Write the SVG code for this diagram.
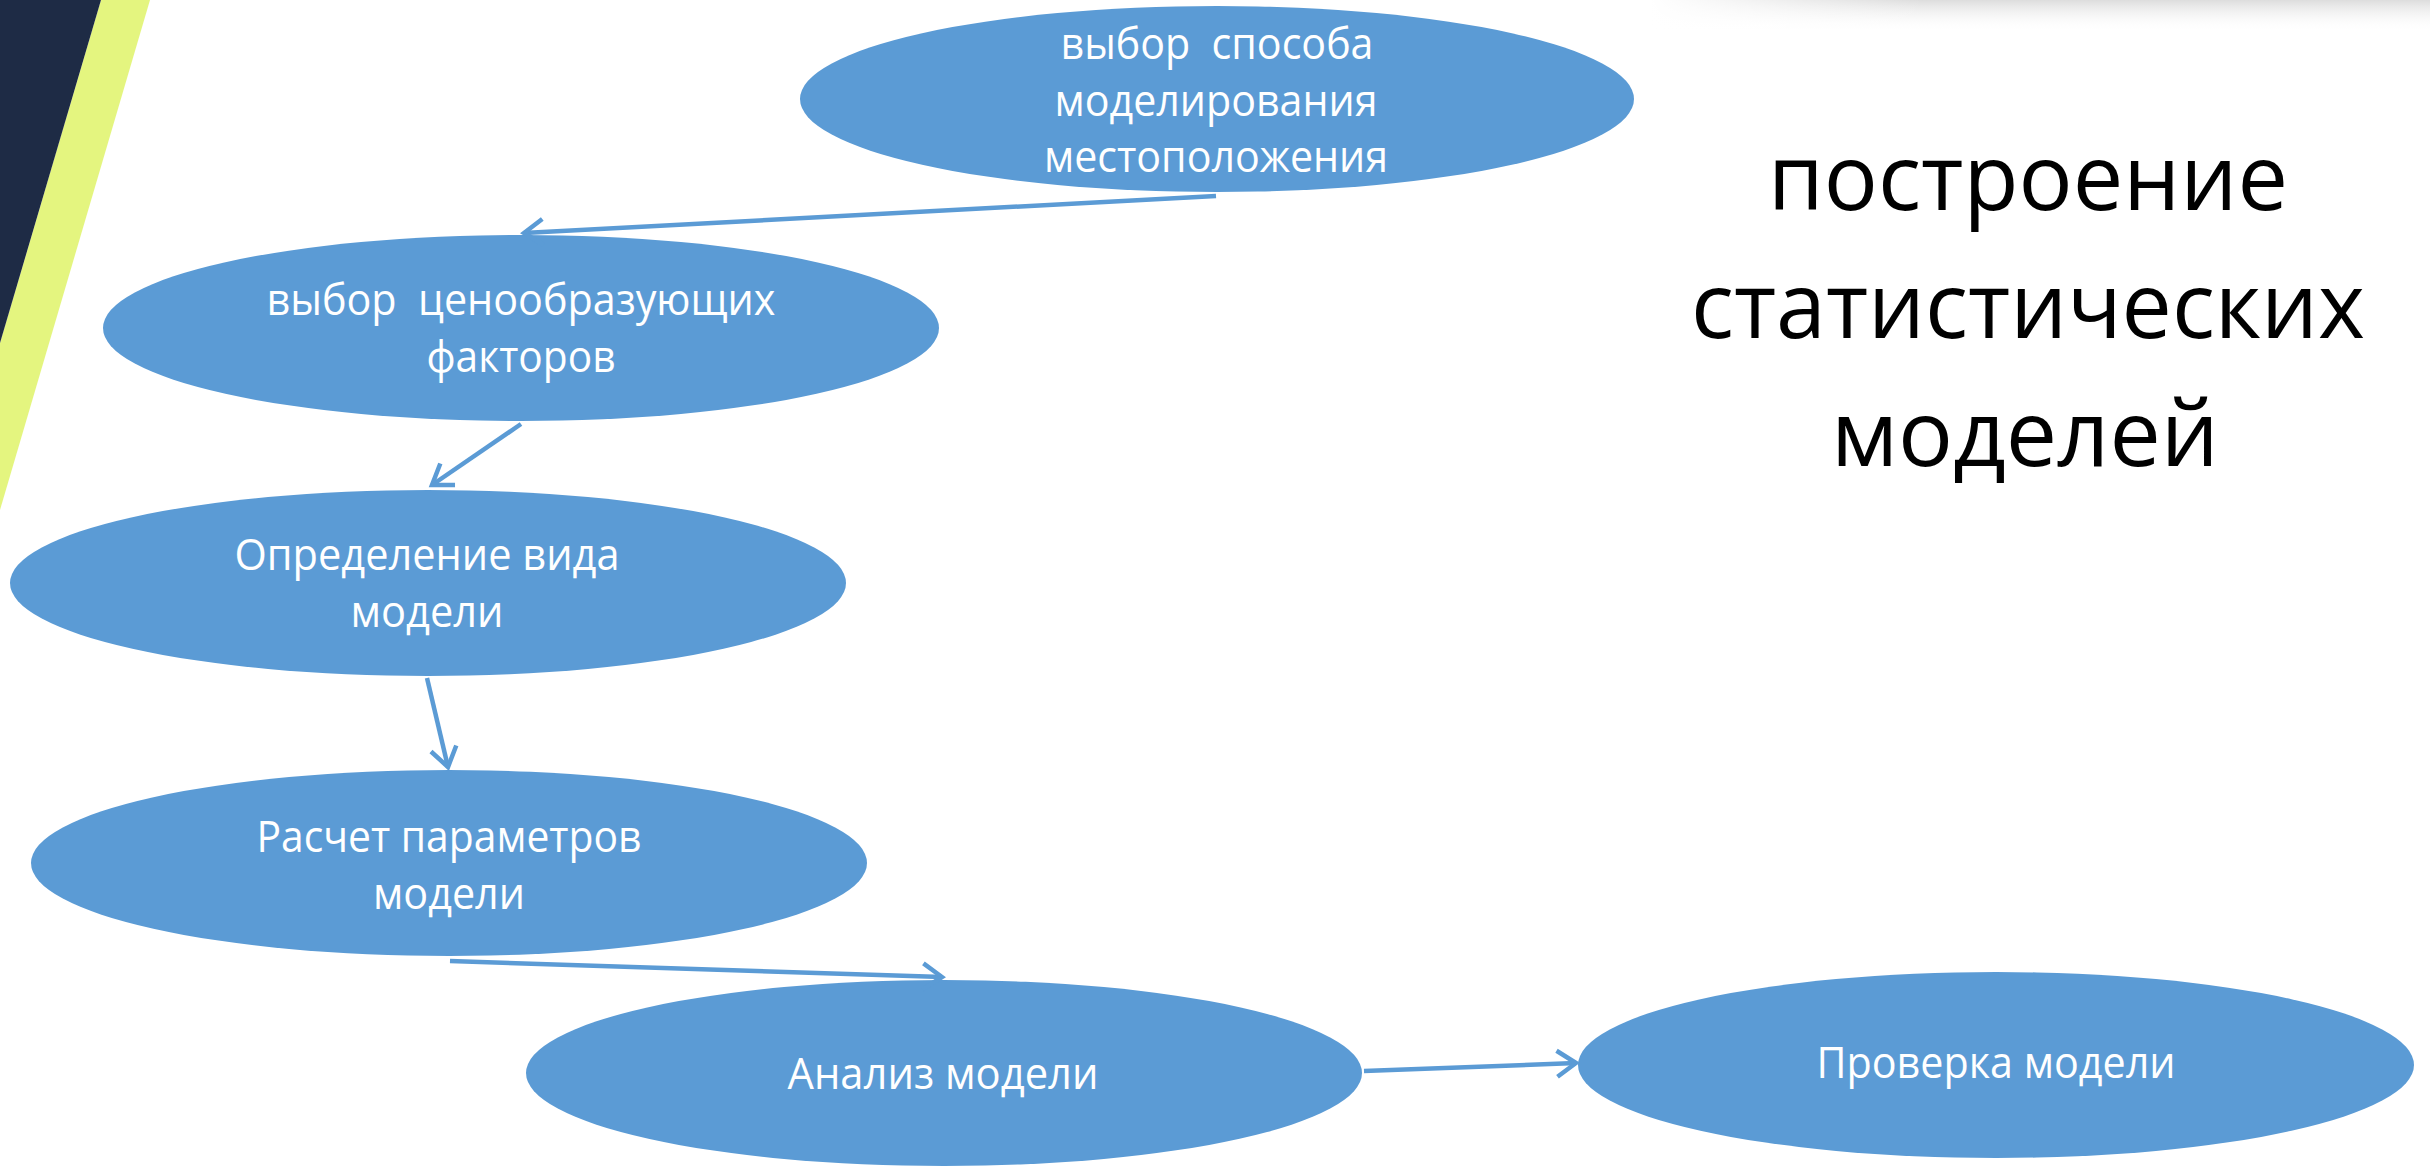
<svg xmlns="http://www.w3.org/2000/svg" width="2430" height="1166" viewBox="0 0 2430 1166">
  <defs>
    <style>
      .node { fill: #5B9BD5; }
      .lbl { font-family: "Open Sans", "Noto Sans", "DejaVu Sans", sans-serif; font-size: 44px; fill: #FFFFFF; text-anchor: middle; }
      .title { font-family: "Open Sans", "Noto Sans", "DejaVu Sans", sans-serif; font-size: 92px; fill: #000000; text-anchor: middle; }
      .edge { stroke: #5B9BD5; stroke-width: 4.5; fill: none; marker-end: url(#arrow); }
    </style>
    <marker id="arrow" markerUnits="userSpaceOnUse" markerWidth="40" markerHeight="40" viewBox="-25 -20 30 40" refX="0" refY="0" orient="auto">
      <path d="M -19 -13 L 0 0 L -19 13" fill="none" stroke="#5B9BD5" stroke-width="4.5" stroke-linejoin="miter"/>
    </marker>
    <linearGradient id="shadeV" x1="0" y1="0" x2="0" y2="1">
      <stop offset="0" stop-color="#d9d9d9" stop-opacity="0.9"/>
      <stop offset="1" stop-color="#ffffff" stop-opacity="0"/>
    </linearGradient>
    <linearGradient id="shadeH" x1="0" y1="0" x2="1" y2="0">
      <stop offset="0" stop-color="#ffffff" stop-opacity="1"/>
      <stop offset="0.35" stop-color="#ffffff" stop-opacity="0"/>
    </linearGradient>
  </defs>

  <rect x="0" y="0" width="2430" height="1166" fill="#FFFFFF"/>

  <!-- decorative background -->
  <g id="decor">
    <rect x="1650" y="0" width="780" height="32" fill="url(#shadeV)"/>
    <rect x="1650" y="0" width="780" height="32" fill="url(#shadeH)"/>
    <polygon points="101,0 150,0 0,510 0,343" fill="#E4F57F"/>
    <polygon points="0,0 101,0 0,343" fill="#1E2B45"/>
  </g>

  <g id="title">
    <text class="title" x="2028" y="210" textLength="520" lengthAdjust="spacingAndGlyphs">построение</text>
    <text class="title" x="2028" y="338" textLength="674" lengthAdjust="spacingAndGlyphs">статистических</text>
    <text class="title" x="2025" y="466" textLength="388" lengthAdjust="spacingAndGlyphs">моделей</text>
  </g>

  <g id="n1">
    <ellipse class="node" cx="1217" cy="99" rx="417" ry="93"/>
    <text class="lbl" x="1217" y="59" textLength="313" lengthAdjust="spacingAndGlyphs" xml:space="preserve">выбор  способа</text>
    <text class="lbl" x="1216" y="116" textLength="323" lengthAdjust="spacingAndGlyphs">моделирования</text>
    <text class="lbl" x="1216" y="172" textLength="344" lengthAdjust="spacingAndGlyphs">местоположения</text>
  </g>

  <g id="n2">
    <ellipse class="node" cx="521" cy="328" rx="418" ry="93"/>
    <text class="lbl" x="521" y="315" textLength="509" lengthAdjust="spacingAndGlyphs" xml:space="preserve">выбор  ценообразующих</text>
    <text class="lbl" x="521" y="372" textLength="189" lengthAdjust="spacingAndGlyphs">факторов</text>
  </g>

  <g id="n3">
    <ellipse class="node" cx="428" cy="583" rx="418" ry="93"/>
    <text class="lbl" x="427" y="570" textLength="385" lengthAdjust="spacingAndGlyphs">Определение вида</text>
    <text class="lbl" x="427" y="627" textLength="153" lengthAdjust="spacingAndGlyphs">модели</text>
  </g>

  <g id="n4">
    <ellipse class="node" cx="449" cy="863" rx="418" ry="93"/>
    <text class="lbl" x="449" y="852" textLength="385" lengthAdjust="spacingAndGlyphs">Расчет параметров</text>
    <text class="lbl" x="449" y="909" textLength="152" lengthAdjust="spacingAndGlyphs">модели</text>
  </g>

  <g id="n5">
    <ellipse class="node" cx="944" cy="1073" rx="418" ry="93"/>
    <text class="lbl" x="943" y="1089" textLength="311" lengthAdjust="spacingAndGlyphs">Анализ модели</text>
  </g>

  <g id="n6">
    <ellipse class="node" cx="1996" cy="1065" rx="418" ry="93"/>
    <text class="lbl" x="1996" y="1078" textLength="359" lengthAdjust="spacingAndGlyphs">Проверка модели</text>
  </g>

  <g id="connectors">
    <line class="edge" x1="1216" y1="196" x2="524" y2="233"/>
    <line class="edge" x1="521" y1="424" x2="432" y2="485"/>
    <line class="edge" x1="427" y1="678" x2="448" y2="767"/>
    <line class="edge" x1="450" y1="961" x2="942" y2="977"/>
    <line class="edge" x1="1364" y1="1071" x2="1576" y2="1063"/>
  </g>
</svg>
